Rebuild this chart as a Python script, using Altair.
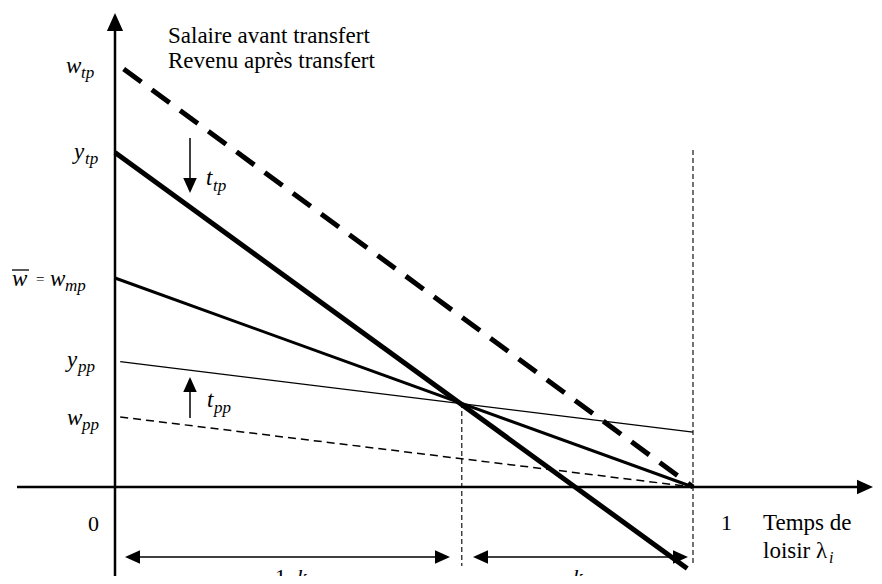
import altair as alt
import pandas as pd

# ---------------- drawing calibration (page pixels) ----------------
W, H = 866, 568
PX0, PXU = 115, 578      # page px of leisure = 0, px per unit of leisure
PY0, PYU = 487, 209      # page px of income = 0, px per unit of income

def X(px):
    return (px - PX0) / PXU

def Y(py):
    return (PY0 - py) / PYU

xs = alt.Scale(domain=[X(8), X(8 + W)], nice=False, zero=False)
ys = alt.Scale(domain=[Y(8 + H), Y(8)], nice=False, zero=False)

# ---------------- data ----------------
line_names = ["w_tp", "y_tp", "w_mp", "y_pp", "w_pp"]
line_x0 = [0.015, 0.0, 0.0, 0.009, 0.009]
line_y0 = [2.0, 1.60, 1.0, 0.60, 0.335]
line_x1 = [1.0, 0.99, 1.0, 1.0, 1.0]
line_y1 = [0.0, -0.39, 0.0, 0.263, 0.0]
k = 0.4

lines = pd.DataFrame({"name": line_names, "x": line_x0, "y": line_y0,
                      "x2": line_x1, "y2": line_y1})

line_style = {
    "w_tp": dict(strokeWidth=5, strokeDash=[22, 13]),
    "y_tp": dict(strokeWidth=5),
    "w_mp": dict(strokeWidth=3),
    "y_pp": dict(strokeWidth=1.3),
    "w_pp": dict(strokeWidth=1.5, strokeDash=[8, 5]),
}

def seg(df, **kw):
    return alt.Chart(df).mark_rule(color="black", **kw).encode(
        x=alt.X("x:Q", scale=xs, axis=None),
        y=alt.Y("y:Q", scale=ys, axis=None),
        x2="x2:Q", y2="y2:Q")

UP = "M0,-1L0.9,1L-0.9,1Z"
DOWN = "M0,1L0.9,-1L-0.9,-1Z"
LEFT = "M-1,0L1,-0.9L1,0.9Z"
RIGHT = "M1,0L-1,-0.9L-1,0.9Z"

def head(x, y, shape, s):
    df = pd.DataFrame({"x": [x], "y": [y]})
    return alt.Chart(df).mark_point(shape=shape, filled=True, color="black",
                                    opacity=1, strokeWidth=0, size=(2 * s) ** 2).encode(
        x=alt.X("x:Q", scale=xs, axis=None),
        y=alt.Y("y:Q", scale=ys, axis=None))

def one(x, y, x2, y2):
    return pd.DataFrame({"x": [x], "y": [y], "x2": [x2], "y2": [y2]})

layers = []

# axes
layers.append(seg(one(0, Y(592), 0, Y(22)), strokeWidth=2.5))
layers.append(head(0, Y(22), UP, 9))
layers.append(seg(one(X(17), 0, X(865), 0), strokeWidth=2.5))
layers.append(head(X(865), 0, RIGHT, 8))

# vertical dashed guides at 1-k and 1
layers.append(seg(one(1 - k, Y(403), 1 - k, Y(566)), strokeWidth=1.1, strokeDash=[5, 3]))
layers.append(seg(one(1.0, Y(150), 1.0, Y(566)), strokeWidth=1.1, strokeDash=[5, 3]))

# budget lines
for n in line_names:
    layers.append(seg(lines[lines.name == n], **line_style[n]))

# transfer arrows
layers.append(seg(one(X(190), Y(138), X(190), Y(185)), strokeWidth=1.5))
layers.append(head(X(190), Y(185.5), DOWN, 7.5))
layers.append(seg(one(X(190), Y(418), X(190), Y(385)), strokeWidth=1.5))
layers.append(head(X(190), Y(384.5), UP, 7.5))

# double arrows 1-k and k
ya = Y(557)
layers.append(seg(one(X(132), ya, X(443), ya), strokeWidth=1.5))
layers.append(head(X(132.5), ya, LEFT, 7.5))
layers.append(head(X(442.5), ya, RIGHT, 7.5))
layers.append(seg(one(X(480), ya, X(681), ya), strokeWidth=1.5))
layers.append(head(X(480.5), ya, LEFT, 7.5))
layers.append(head(X(680.5), ya, RIGHT, 7.5))

# overline of w-bar
layers.append(seg(one(X(12), Y(270), X(29), Y(270)), strokeWidth=1.3))

# ---------------- labels ----------------
ital = [
    ("w", 66, 73, 23), ("tp", 81, 78, 17),
    ("y", 74, 159, 23), ("tp", 85, 164, 17),
    ("w", 12, 286, 23), ("w", 50, 286, 23), ("mp", 65, 291, 17),
    ("y", 67, 367, 23), ("pp", 78, 372, 17),
    ("w", 67, 425, 23), ("pp", 82, 430, 17),
    ("t", 206, 185, 23), ("tp", 213, 191, 17),
    ("t", 207, 407, 23), ("pp", 214, 413, 17),
    ("k", 297, 584, 22), ("k", 573, 584, 22),
    ("i", 829, 563, 16),
]
norm = [
    ("Salaire avant transfert", 168, 43, 23),
    ("Revenu après transfert", 168, 68, 23),
    ("=", 36, 284, 15),
    ("0", 88, 531, 22),
    ("1", 721, 530, 22),
    ("Temps de", 763, 530, 23),
    ("loisir λ", 763, 558, 23),
    ("1-", 275, 584, 22),
]

def texts(rows, style):
    df = pd.DataFrame({"t": [r[0] for r in rows], "x": [X(r[1]) for r in rows],
                       "y": [Y(r[2]) for r in rows], "s": [r[3] for r in rows]})
    return alt.Chart(df).mark_text(font="Liberation Serif", fontStyle=style,
                                   align="left", baseline="alphabetic", color="black").encode(
        x=alt.X("x:Q", scale=xs, axis=None),
        y=alt.Y("y:Q", scale=ys, axis=None),
        text="t:N",
        size=alt.Size("s:Q", scale=None))

layers.append(texts(ital, "italic"))
layers.append(texts(norm, "normal"))

chart = alt.layer(*layers).properties(
    width=W, height=H, padding=0, autosize="none", background="white"
).configure_view(stroke=None)

chart.save("out.html", embed_options={"renderer": "svg", "actions": False})
